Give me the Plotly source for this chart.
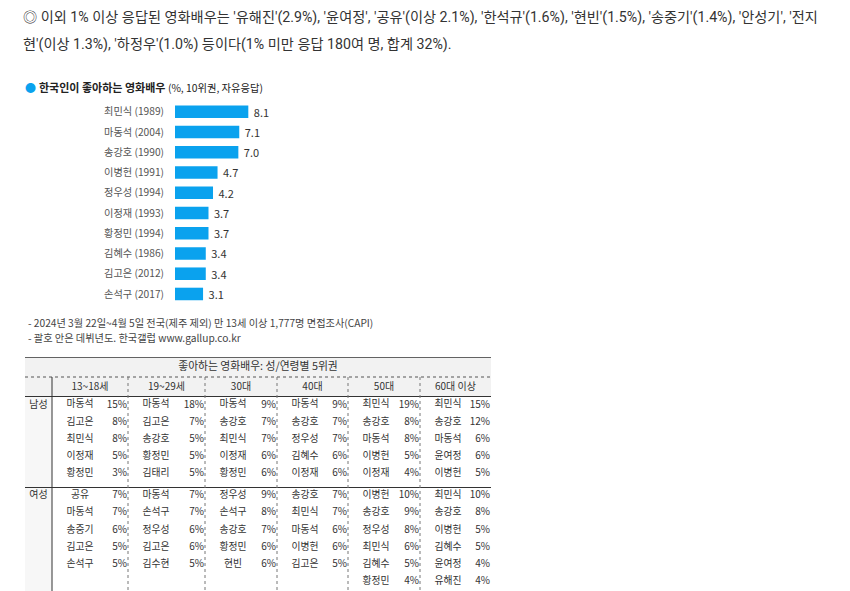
import plotly.graph_objects as go

W, H = 850, 591

# ---------------- data ----------------
intro_line1 = "◎ 이외 1% 이상 응답된 영화배우는 '유해진'(2.9%), '윤여정', '공유'(이상 2.1%), '한석규'(1.6%), '현빈'(1.5%), '송중기'(1.4%), '안성기', '전지"
intro_line2 = "현'(이상 1.3%), '하정우'(1.0%) 등이다(1% 미만 응답 180여 명, 합계 32%)."

chart_title = "한국인이 좋아하는 영화배우"
chart_subtitle = "(%, 10위권, 자유응답)"

actors = ["최민식", "마동석", "송강호", "이병헌", "정우성", "이정재", "황정민", "김혜수", "김고은", "손석구"]
debut_years = [1989, 2004, 1990, 1991, 1994, 1993, 1994, 1986, 2012, 2017]
share_pct = [8.1, 7.1, 7.0, 4.7, 4.2, 3.7, 3.7, 3.4, 3.4, 3.1]

notes = [
    "- 2024년 3월 22일~4월 5일 전국(제주 제외) 만 13세 이상 1,777명 면접조사(CAPI)",
    "- 괄호 안은 데뷔년도. 한국갤럽 www.gallup.co.kr",
]

table_title = "좋아하는 영화배우: 성/연령별 5위권"
gender_labels = ["남성", "여성"]
age_groups = ["13~18세", "19~29세", "30대", "40대", "50대", "60대 이상"]

male_names = [
    ["마동석", "김고은", "최민식", "이정재", "황정민"],
    ["마동석", "김고은", "송강호", "황정민", "김태리"],
    ["마동석", "송강호", "최민식", "이정재", "황정민"],
    ["마동석", "송강호", "정우성", "김혜수", "이정재"],
    ["최민식", "송강호", "마동석", "이병헌", "이정재"],
    ["최민식", "송강호", "마동석", "윤여정", "이병헌"],
]
male_pcts = [
    [15, 8, 8, 5, 3],
    [18, 7, 5, 5, 5],
    [9, 7, 7, 6, 6],
    [9, 7, 7, 6, 6],
    [19, 8, 8, 5, 4],
    [15, 12, 6, 6, 5],
]
female_names = [
    ["공유", "마동석", "송중기", "김고은", "손석구"],
    ["마동석", "손석구", "정우성", "김고은", "김수현"],
    ["정우성", "손석구", "송강호", "황정민", "현빈"],
    ["송강호", "최민식", "마동석", "이병헌", "김고은"],
    ["이병헌", "송강호", "정우성", "최민식", "김혜수", "황정민"],
    ["최민식", "송강호", "이병헌", "김혜수", "윤여정", "유해진"],
]
female_pcts = [
    [7, 7, 6, 5, 5],
    [7, 7, 6, 6, 5],
    [9, 8, 7, 6, 6],
    [7, 7, 6, 6, 5],
    [10, 9, 8, 6, 5, 4],
    [10, 8, 5, 5, 4, 4],
]

# ---------------- style / layout constants ----------------
FONT = "Noto Sans CJK KR"
TEXT_FONT = "Roboto, Noto Sans CJK KR"
BAR_COLOR = "#0aa2ee"
GRAY_BG = "#f2f2f2"

def px(x):
    return x / W

def py(y):
    return 1 - y / H

# table geometry in table-pixel units
COL_EDGES = [0, 27, 103, 180, 252, 323, 395, 466]
TITLE_Y = 10
HEADER_TOP = 20
HEADER_Y = 30
HEADER_BOTTOM = 39.5
MALE_Y0 = 48
FEMALE_Y0 = 138.7
ROW_STEP = 17.2
SECTION_SEP = 130.5
TABLE_BOTTOM = 240

fig = go.Figure()

# ---------------- bar chart ----------------
labels = [f"{a} ({y})" for a, y in zip(actors, debut_years)]
fig.add_trace(go.Bar(
    x=share_pct, y=labels, orientation="h",
    marker=dict(color=BAR_COLOR, line=dict(width=0)),
    width=0.62,
    text=share_pct, texttemplate="\u00a0%{x:.1f}", textposition="outside",
    constraintext="none",
    textfont=dict(family=FONT, size=11, color="#333"),
    cliponaxis=False, hoverinfo="skip",
    xaxis="x", yaxis="y",
))

# ---------------- table ----------------
name_x, name_y, name_t = [], [], []
pct_x, pct_y, pct_t = [], [], []
for g in range(len(age_groups)):
    left, right = COL_EDGES[g + 1], COL_EDGES[g + 2]
    for names, pcts, y0 in ((male_names[g], male_pcts[g], MALE_Y0),
                            (female_names[g], female_pcts[g], FEMALE_Y0)):
        for r, (n, p) in enumerate(zip(names, pcts)):
            name_x.append(left + 28)
            name_y.append(y0 + r * ROW_STEP)
            name_t.append(n)
            pct_x.append(right - 1)
            pct_y.append(y0 + r * ROW_STEP)
            pct_t.append(f"{p}%")

fig.add_trace(go.Scatter(
    x=name_x, y=name_y, text=name_t, mode="text", textposition="middle center",
    textfont=dict(family=FONT, size=9.8, color="#333"),
    xaxis="x2", yaxis="y2", hoverinfo="skip", cliponaxis=False,
))
fig.add_trace(go.Scatter(
    x=pct_x, y=pct_y, text=pct_t, mode="text", textposition="middle left",
    textfont=dict(family=FONT, size=10, color="#333"),
    xaxis="x2", yaxis="y2", hoverinfo="skip", cliponaxis=False,
))
# headers
hx = [(COL_EDGES[g + 1] + COL_EDGES[g + 2]) / 2 for g in range(len(age_groups))]
fig.add_trace(go.Scatter(
    x=hx, y=[HEADER_Y] * len(age_groups),
    text=age_groups, mode="text", textposition="middle center",
    textfont=dict(family=FONT, size=10, color="#333"),
    xaxis="x2", yaxis="y2", hoverinfo="skip", cliponaxis=False,
))
fig.add_trace(go.Scatter(
    x=[COL_EDGES[-1] / 2], y=[TITLE_Y],
    text=[table_title], mode="text", textposition="middle center",
    textfont=dict(family=FONT, size=10.8, color="#333"),
    xaxis="x2", yaxis="y2", hoverinfo="skip", cliponaxis=False,
))
fig.add_trace(go.Scatter(
    x=[(COL_EDGES[0] + COL_EDGES[1]) / 2] * 2, y=[MALE_Y0, FEMALE_Y0],
    text=gender_labels, mode="text", textposition="middle center",
    textfont=dict(family=FONT, size=10, color="#333"),
    xaxis="x2", yaxis="y2", hoverinfo="skip", cliponaxis=False,
))

shapes = []
def tshape(**kw):
    kw.setdefault("xref", "x2")
    kw.setdefault("yref", "y2")
    shapes.append(kw)

tshape(type="rect", x0=COL_EDGES[0], x1=COL_EDGES[-1], y0=0, y1=HEADER_BOTTOM,
       fillcolor=GRAY_BG, line=dict(width=0), layer="below")
tshape(type="rect", x0=COL_EDGES[0], x1=COL_EDGES[1], y0=HEADER_BOTTOM, y1=TABLE_BOTTOM,
       fillcolor="#f7f7f7", line=dict(width=0), layer="below")
tshape(type="line", x0=COL_EDGES[0], x1=COL_EDGES[-1], y0=0, y1=0, line=dict(color="#333", width=1.5))
tshape(type="line", x0=COL_EDGES[0], x1=COL_EDGES[-1], y0=HEADER_TOP, y1=HEADER_TOP,
       line=dict(color="#555", width=1, dash="dot"))
tshape(type="line", x0=COL_EDGES[0], x1=COL_EDGES[-1], y0=HEADER_BOTTOM, y1=HEADER_BOTTOM,
       line=dict(color="#333", width=1))
tshape(type="line", x0=COL_EDGES[0], x1=COL_EDGES[-1], y0=SECTION_SEP, y1=SECTION_SEP,
       line=dict(color="#333", width=1))
tshape(type="line", x0=COL_EDGES[1], x1=COL_EDGES[1], y0=HEADER_TOP, y1=TABLE_BOTTOM,
       line=dict(color="#333", width=1))
for e in COL_EDGES[2:-1]:
    tshape(type="line", x0=e, x1=e, y0=HEADER_TOP, y1=TABLE_BOTTOM,
           line=dict(color="#777", width=1, dash="dot"))

# ---------------- text annotations ----------------
ann = []
ann.append(dict(x=px(21), y=py(17), text=intro_line1))
ann.append(dict(x=px(21), y=py(44), text=intro_line2))
for a in ann:
    a.update(xref="paper", yref="paper", xanchor="left", yanchor="middle", showarrow=False,
             font=dict(family=TEXT_FONT, size=14.2, color="#333"))
ann.append(dict(x=px(23), y=py(87), text="●", xref="paper", yref="paper", xanchor="left",
                yanchor="middle", showarrow=False, font=dict(family=FONT, size=11, color=BAR_COLOR)))
ann.append(dict(x=px(37), y=py(87),
                text=f"<b>{chart_title}</b> <span style='font-size:10.3px'>{chart_subtitle}</span>",
                xref="paper", yref="paper", xanchor="left", yanchor="middle", showarrow=False,
                font=dict(family=FONT, size=11, color="#222")))
for i, n in enumerate(notes):
    ann.append(dict(x=px(26), y=py(322 + 15 * i), text=n, xref="paper", yref="paper",
                    xanchor="left", yanchor="middle", showarrow=False,
                    font=dict(family=FONT, size=10.2, color="#444")))

fig.update_layout(
    width=W, height=H,
    margin=dict(l=0, r=0, t=0, b=0),
    paper_bgcolor="white", plot_bgcolor="white",
    showlegend=False,
    bargap=0.38,
    xaxis=dict(domain=[px(175), px(175 + 90.5)], range=[0, 10], visible=False, fixedrange=True),
    yaxis=dict(domain=[py(304.1), py(101.6)], autorange="reversed", showgrid=False, zeroline=False,
               showline=False, ticks="", ticklabelstandoff=10,
               tickfont=dict(family=FONT, size=10.2, color="#555"), fixedrange=True),
    xaxis2=dict(domain=[px(25), px(491)], range=[0, 466], visible=False, fixedrange=True),
    yaxis2=dict(domain=[0, py(357)], range=[234, 0], visible=False, fixedrange=True),
    shapes=shapes,
    annotations=ann,
)

fig.write_html("out.html", config={"displayModeBar": False})
